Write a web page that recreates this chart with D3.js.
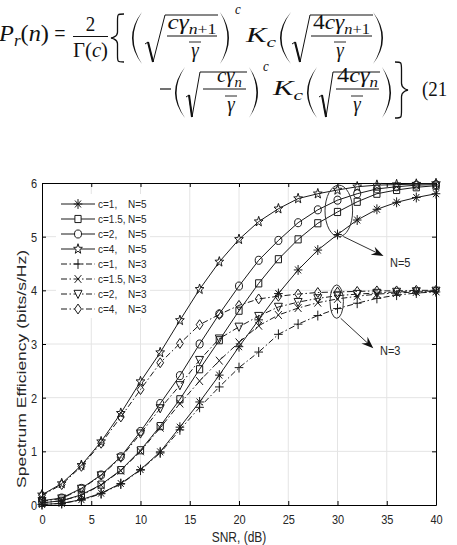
<!DOCTYPE html>
<html>
<head>
<meta charset="utf-8">
<script src="https://cdn.jsdelivr.net/npm/d3@7"></script>
<style>
  html, body { margin: 0; padding: 0; background: #fff; }
  svg { display: block; }
</style>
</head>
<body>
<svg id="fig" width="457" height="545"></svg>
<script>
// Spectrum efficiency vs SNR (markers every 2 dB)
const snr    = [0, 2, 4, 6, 8, 10, 12, 14, 16, 18, 20, 22, 24, 26, 28, 30, 32, 34, 36, 38, 40];
const c1N5   = [0.01, 0.03, 0.10, 0.22, 0.40, 0.66, 0.99, 1.45, 1.92, 2.42, 2.95, 3.45, 3.94, 4.38, 4.75, 5.04, 5.31, 5.51, 5.64, 5.73, 5.80];
const c15N5  = [0.04, 0.08, 0.19, 0.38, 0.65, 1.02, 1.47, 1.97, 2.53, 3.07, 3.62, 4.13, 4.58, 4.95, 5.25, 5.46, 5.65, 5.80, 5.87, 5.92, 5.95];
const c2N5   = [0.08, 0.13, 0.31, 0.56, 0.90, 1.37, 1.89, 2.41, 3.00, 3.56, 4.08, 4.56, 4.93, 5.26, 5.50, 5.68, 5.80, 5.89, 5.93, 5.96, 5.97];
const c4N5   = [0.19, 0.40, 0.74, 1.18, 1.71, 2.30, 2.84, 3.44, 4.02, 4.53, 4.95, 5.28, 5.52, 5.71, 5.80, 5.87, 5.93, 5.96, 5.97, 5.98, 5.99];
const c1N3   = [0.01, 0.03, 0.09, 0.21, 0.39, 0.65, 0.97, 1.40, 1.82, 2.20, 2.56, 2.85, 3.18, 3.37, 3.53, 3.66, 3.76, 3.85, 3.91, 3.95, 3.97];
const c15N3  = [0.04, 0.08, 0.18, 0.37, 0.64, 1.00, 1.44, 1.89, 2.31, 2.69, 3.03, 3.34, 3.54, 3.67, 3.77, 3.84, 3.89, 3.93, 3.95, 3.97, 3.98];
const c2N3   = [0.07, 0.12, 0.30, 0.55, 0.88, 1.33, 1.80, 2.23, 2.70, 3.10, 3.32, 3.52, 3.69, 3.78, 3.85, 3.90, 3.93, 3.95, 3.97, 3.98, 3.99];
const c4N3   = [0.18, 0.38, 0.72, 1.15, 1.64, 2.15, 2.65, 3.01, 3.36, 3.55, 3.72, 3.84, 3.89, 3.93, 3.96, 3.97, 3.98, 3.99, 3.99, 4.00, 4.00];

const cLabels = ['c=1,', 'c=1.5,', 'c=2,', 'c=4,', 'c=1,', 'c=1.5,', 'c=2,', 'c=4,'];
const nLabels = ['N=5', 'N=5', 'N=5', 'N=5', 'N=3', 'N=3', 'N=3', 'N=3'];
const xTicks  = [0, 5, 10, 15, 20, 25, 30, 35, 40];
const yTicks  = [0, 1, 2, 3, 4, 5, 6];

const series = [
  { values: c1N5,  marker: 'asterisk', dashed: false },
  { values: c15N5, marker: 'square',   dashed: false },
  { values: c2N5,  marker: 'circle',   dashed: false },
  { values: c4N5,  marker: 'star',     dashed: false },
  { values: c1N3,  marker: 'plus',     dashed: true  },
  { values: c15N3, marker: 'cross',    dashed: true  },
  { values: c2N3,  marker: 'tridown',  dashed: true  },
  { values: c4N3,  marker: 'diamond',  dashed: true  },
].map((s, i) => ({ ...s, c: cLabels[i], n: nLabels[i] }));

/* global d3 */
const svg = d3.select('#fig');
const SY  = 1.15;          // source picture is a bit stretched vertically
const INK = '#1a1a1a';

// ─── Equation (21) ───────────────────────────────────────────────────────────
const eq = svg.append('g')
  .attr('font-family', '"Liberation Serif", "Times New Roman", serif')
  .attr('fill', '#111');

function mtext(x, y, parts, size, o = {}) {
  const t = eq.append('text')
    .attr('transform', `translate(${x},${y}) scale(1,${SY})`)
    .attr('font-size', size)
    .attr('text-anchor', o.anchor || 'start');
  if (o.len) t.attr('textLength', o.len).attr('lengthAdjust', 'spacingAndGlyphs');
  let shift = 0;
  for (const [s, f = ''] of parts) {
    const want = f.includes('s') ? 4 : 0;
    t.append('tspan')
      .attr('font-style', f.includes('i') ? 'italic' : 'normal')
      .attr('font-size', f.includes('s') ? size * 0.7 : size)
      .attr('dy', want - shift)
      .text(s);
    shift = want;
  }
  return t;
}

function hbar(x0, x1, yy, w = 1) {
  eq.append('line').attr('x1', x0).attr('x2', x1).attr('y1', yy).attr('y2', yy)
    .attr('stroke', '#111').attr('stroke-width', w);
}

// big parenthesis as a filled crescent; dir = 1 for '(' and -1 for ')'
function paren(xa, xb, top, bot, dir) {
  const mid = (top + bot) / 2;
  const edge = dir > 0 ? xb : xa;
  const belly = dir > 0 ? xa : xb;
  const co = 2 * belly - edge;
  const ci = 2 * (belly + dir * 1.6) - edge;
  eq.append('path')
    .attr('d', `M${edge},${top} Q${co},${mid} ${edge},${bot} Q${ci},${mid} ${edge},${top} Z`)
    .attr('fill', '#111');
}

function brace(xa, xb, top, bot, dir) {
  const h = bot - top, mid = (top + bot) / 2, xm = (xa + xb) / 2;
  const out = dir > 0 ? xb : xa, tip = dir > 0 ? xa : xb;
  eq.append('path')
    .attr('d', `M${out},${top} C${xm},${top} ${xm},${top} ${xm},${top + h * 0.14}
      L${xm},${mid - h * 0.12} C${xm},${mid - 0.02 * h} ${tip},${mid} ${tip},${mid}
      C${tip},${mid} ${xm},${mid + 0.02 * h} ${xm},${mid + h * 0.12}
      L${xm},${bot - h * 0.14} C${xm},${bot} ${xm},${bot} ${out},${bot}`)
    .attr('fill', 'none').attr('stroke', '#111').attr('stroke-width', 1.3);
}

function radical(hx, hy, bx, by, tx, ty, endX) {
  eq.append('path')
    .attr('d', `M${hx},${hy} L${hx + 3},${hy - 2} L${bx},${by} L${tx},${ty} L${endX},${ty}`)
    .attr('fill', 'none').attr('stroke', '#111').attr('stroke-width', 1).attr('stroke-linejoin', 'miter');
  eq.append('line').attr('x1', hx + 3).attr('y1', hy - 2).attr('x2', bx).attr('y2', by)
    .attr('stroke', '#111').attr('stroke-width', 2);
}

function gammaBar(cx, base) {
  mtext(cx, base, [['γ', 'i']], 19, { anchor: 'middle' });
  hbar(cx - 6, cx + 6, base - 15, 0.9);
}

// line 1
mtext(-1, 41, [['P', 'i'], ['r', 'is'], ['('], ['n', 'i'], [')']], 20, { len: 50 });
mtext(60, 41, [['=']], 20, { anchor: 'middle' });
mtext(90.5, 31, [['2']], 19, { anchor: 'middle' });
hbar(73, 108, 36.5);
mtext(73, 57, [['Γ'], ['('], ['c', 'i'], [')']], 19, { len: 35 });
brace(111, 124, 14, 62, 1);

paren(132, 142, 12, 64, 1);
radical(145, 44, 153, 62, 165, 15, 218);
mtext(167.5, 29, [['cγ', 'i'], ['n', 'is'], ['+1', 's']], 19, { len: 49 });
hbar(167, 217, 36);
gammaBar(195, 57);
paren(220, 229, 12, 64, -1);
mtext(235, 13.5, [['c', 'i']], 13);
mtext(246, 42, [['K', 'i'], ['c', 'is']], 19, { len: 30 });

paren(280, 291, 12, 64, 1);
radical(292, 44, 300, 62, 310, 15, 373);
mtext(313, 29, [['4'], ['cγ', 'i'], ['n', 'is'], ['+1', 's']], 19, { len: 57 });
hbar(311, 372, 36);
gammaBar(340, 57);
paren(373, 383, 12, 64, -1);

// line 2
hbar(160, 171, 89, 1.2);
paren(175, 185, 67, 118, 1);
radical(186, 97, 192, 117, 200, 72, 247);
mtext(217, 82, [['cγ', 'i'], ['n', 'is']], 19, { len: 25 });
hbar(203, 246, 89);
gammaBar(231, 111);
paren(249, 258, 67, 118, -1);
mtext(263, 71, [['c', 'i']], 13);
mtext(273, 95, [['K', 'i'], ['c', 'is']], 19, { len: 30 });

paren(307, 317, 67, 118, 1);
radical(319, 97, 326, 117, 333, 72, 380);
mtext(337, 82, [['4'], ['cγ', 'i'], ['n', 'is']], 19, { len: 41 });
hbar(336, 379, 89);
gammaBar(357, 111);
paren(382, 391, 67, 118, -1);
brace(395, 408, 62, 118, -1);
mtext(422, 96, [['(21']], 19);

// ─── Chart ───────────────────────────────────────────────────────────────────
const X_LEFT = 42, X_RIGHT = 436, Y_TOP = 183, Y_BOTTOM = 505;
const x = d3.scaleLinear().domain([0, 40]).range([X_LEFT, X_RIGHT]);
const y = d3.scaleLinear().domain([0, 6]).range([Y_BOTTOM, Y_TOP]);

const chart = svg.append('g').attr('font-family', '"Liberation Sans", Arial, sans-serif');

// grid
const grid = chart.append('g').attr('stroke', '#e4e4e4').attr('stroke-width', 1);
grid.selectAll('line.gx').data(xTicks.slice(1, -1)).join('line')
  .attr('x1', d => x(d)).attr('x2', d => x(d)).attr('y1', Y_TOP).attr('y2', Y_BOTTOM);
grid.selectAll('line.gy').data(yTicks.slice(1, -1)).join('line')
  .attr('y1', d => y(d)).attr('y2', d => y(d)).attr('x1', X_LEFT).attr('x2', X_RIGHT);

// axes: ticks point inward on all four sides
function styleAxis(g) {
  g.attr('font-family', null).attr('font-size', null);
  g.selectAll('.domain, .tick line').attr('stroke', '#000').attr('stroke-width', 1);
  g.selectAll('text').attr('fill', '#262626').attr('font-size', 11);
}
const fmt = d3.format('d');
const axB = chart.append('g').attr('transform', `translate(0,${Y_BOTTOM})`)
  .call(d3.axisBottom(x).tickValues(xTicks).tickFormat(fmt).tickSizeInner(-4).tickSizeOuter(0))
  .call(styleAxis);
axB.selectAll('text').attr('y', null).attr('dy', null)
  .attr('transform', 'translate(0,19) scale(1,1.1)');
chart.append('g').attr('transform', `translate(0,${Y_TOP})`)
  .call(d3.axisTop(x).tickValues(xTicks).tickSizeInner(-4).tickSizeOuter(0).tickFormat(() => ''))
  .call(styleAxis);
const axL = chart.append('g').attr('transform', `translate(${X_LEFT},0)`)
  .call(d3.axisLeft(y).tickValues(yTicks).tickFormat(fmt).tickSizeInner(-4).tickSizeOuter(0))
  .call(styleAxis);
axL.selectAll('text').attr('x', null).attr('dy', null)
  .attr('transform', 'translate(-5,4.5) scale(1,1.1)');
chart.append('g').attr('transform', `translate(${X_RIGHT},0)`)
  .call(d3.axisRight(y).tickValues(yTicks).tickSizeInner(-4).tickSizeOuter(0).tickFormat(() => ''))
  .call(styleAxis);

// axis titles
chart.append('text')
  .attr('transform', `translate(${(X_LEFT + X_RIGHT) / 2},542) scale(1,1.2)`)
  .attr('text-anchor', 'middle').attr('font-size', 12).attr('fill', '#262626')
  .text('SNR, (dB)');
chart.append('text')
  .attr('transform', 'translate(26,369) rotate(-90)')
  .attr('text-anchor', 'middle').attr('font-size', 12.5).attr('fill', '#262626')
  .attr('textLength', 238).attr('lengthAdjust', 'spacingAndGlyphs')
  .text('Spectrum Efficiency (bits/s/Hz)');

// marker shapes, centred on 0,0
function markerPath(type) {
  const s = SY;
  switch (type) {
    case 'asterisk': {
      const r = 4.3, k = r * 0.7;
      return `M${-r},0L${r},0M0,${-r * s}L0,${r * s}M${-k},${-k * s}L${k},${k * s}M${-k},${k * s}L${k},${-k * s}`;
    }
    case 'square': { const h = 3.1; return `M${-h},${-h * s}H${h}V${h * s}H${-h}Z`; }
    case 'circle': { const r = 3.5; return `M${-r},0A${r},${r * s} 0 1 0 ${r},0A${r},${r * s} 0 1 0 ${-r},0Z`; }
    case 'star': {
      const pts = [];
      for (let i = 0; i < 10; i++) {
        const a = -Math.PI / 2 + i * Math.PI / 5, r = i % 2 ? 1.9 : 4.6;
        pts.push([r * Math.cos(a), r * Math.sin(a) * s]);
      }
      return 'M' + pts.map(p => p.join(',')).join('L') + 'Z';
    }
    case 'plus': { const r = 4.3; return `M${-r},0H${r}M0,${-r * s}V${r * s}`; }
    case 'cross': { const r = 3.4; return `M${-r},${-r * s}L${r},${r * s}M${-r},${r * s}L${r},${-r * s}`; }
    case 'tridown': return `M-4,${-3.2 * s}L4,${-3.2 * s}L0,${3.9 * s}Z`;
    case 'diamond': return `M0,${-4.3 * s}L3.4,0L0,${4.3 * s}L-3.4,0Z`;
  }
}

const DASH = '6,2.5,1.5,2.5';
const line = d3.line().x((d, i) => x(snr[i])).y(d => y(d));

const curves = chart.append('g');
series.forEach(sr => {
  const g = curves.append('g');
  g.append('path').attr('d', line(sr.values))
    .attr('fill', 'none').attr('stroke', INK).attr('stroke-width', 1)
    .attr('stroke-dasharray', sr.dashed ? DASH : null);
  g.selectAll('path.mk').data(sr.values).join('path').attr('class', 'mk')
    .attr('transform', (d, i) => `translate(${x(snr[i])},${y(d)})`)
    .attr('d', markerPath(sr.marker))
    .attr('fill', 'none').attr('stroke', INK).attr('stroke-width', 1);
});

// legend (white box, no border)
const LEG_X = 56, LEG_Y = 204, LEG_DY = 15;
const leg = chart.append('g');
leg.append('rect').attr('x', LEG_X).attr('y', LEG_Y - 10).attr('width', 94).attr('height', LEG_DY * 8 + 4)
  .attr('fill', '#fff');
series.forEach((sr, i) => {
  const ry = LEG_Y + i * LEG_DY;
  leg.append('line').attr('x1', LEG_X + 5).attr('x2', LEG_X + 39).attr('y1', ry).attr('y2', ry)
    .attr('stroke', INK).attr('stroke-width', 1).attr('stroke-dasharray', sr.dashed ? DASH : null);
  leg.append('path').attr('transform', `translate(${LEG_X + 22},${ry})`)
    .attr('d', markerPath(sr.marker)).attr('fill', '#fff').attr('stroke', INK).attr('stroke-width', 1);
  leg.append('text').attr('transform', `translate(${LEG_X + 42},${ry + 4}) scale(1,${SY})`)
    .attr('font-size', 10).attr('fill', '#262626').text(sr.c);
  leg.append('text').attr('transform', `translate(${LEG_X + 72},${ry + 4}) scale(1,${SY})`)
    .attr('font-size', 10).attr('fill', '#262626').text(sr.n);
});

// annotations: ellipses at SNR = 30 dB with arrows and labels
function arrow(x0, y0, x1, y1) {
  const dx = x1 - x0, dy = y1 - y0, L = Math.hypot(dx, dy);
  const ux = dx / L, uy = dy / L, nx = -uy, ny = ux;
  const bx = x1 - ux * 12, by = y1 - uy * 12;
  chart.append('line').attr('x1', x0).attr('y1', y0).attr('x2', x1 - ux * 6).attr('y2', y1 - uy * 6)
    .attr('stroke', '#333').attr('stroke-width', 1);
  chart.append('path')
    .attr('d', `M${x1},${y1}L${bx + nx * 4.5},${by + ny * 4.5}L${x1 - ux * 8},${y1 - uy * 8}L${bx - nx * 4.5},${by - ny * 4.5}Z`)
    .attr('fill', '#111');
}
chart.append('ellipse').attr('cx', x(30) + 1.3).attr('cy', y(5.48)).attr('rx', 13.8).attr('ry', 25.8)
  .attr('fill', 'none').attr('stroke', '#333').attr('stroke-width', 1);
arrow(343.3, 236.5, 383.5, 256);
chart.append('text').attr('transform', `translate(390,266.5) scale(1,${SY})`)
  .attr('font-size', 11).attr('fill', '#262626').text('N=5');

chart.append('ellipse').attr('cx', x(30) - 0.8).attr('cy', y(3.79)).attr('rx', 6.7).attr('ry', 16.7)
  .attr('fill', 'none').attr('stroke', '#333').attr('stroke-width', 1);
arrow(340.7, 318.3, 373.3, 348.3);
chart.append('text').attr('transform', `translate(380,355) scale(1,${SY})`)
  .attr('font-size', 11).attr('fill', '#262626').text('N=3');
</script>
</body>
</html>
